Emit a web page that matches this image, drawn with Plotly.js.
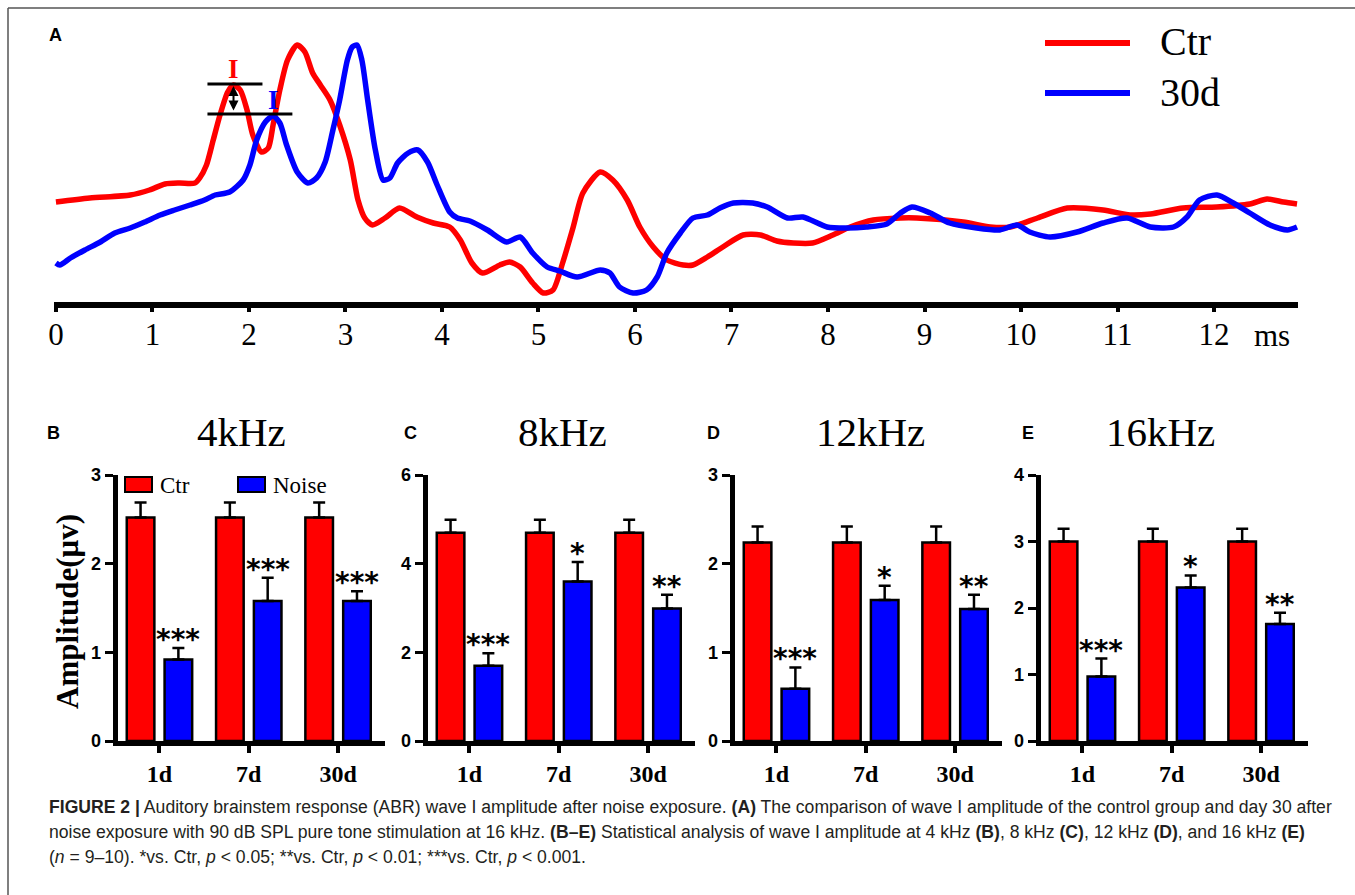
<!DOCTYPE html>
<html><head><meta charset="utf-8">
<script src="https://cdn.plot.ly/plotly-3.0.1.min.js"></script>
<style>html,body{margin:0;padding:0;background:#fff;}#chart{width:1355px;height:895px;}</style>
</head><body><div id="chart"></div>
<script>
// ---------- Panel A : ABR waveforms (time in ms, amplitude in arbitrary µV units) ----------
const timeCtr = [0,0.35,0.77,0.97,1.13,1.28,1.44,1.49,1.56,1.63,1.70,1.78,1.84,1.91,1.98,2.04,2.13,2.20,2.25,2.32,2.40,2.50,2.58,2.66,2.74,2.84,2.94,3.05,3.13,3.20,3.28,3.41,3.56,3.74,3.91,4.08,4.19,4.31,4.42,4.60,4.70,4.81,4.94,5.05,5.15,5.25,5.36,5.46,5.64,5.77,5.92,6.05,6.19,6.33,6.50,6.60,6.75,6.91,7.12,7.30,7.47,7.64,7.84,8.05,8.23,8.47,8.75,8.92,9.40,9.68,9.89,10.17,10.48,10.85,11.13,11.34,11.68,12.03,12.37,12.55,12.72,12.86];
const ampCtr = [0.98,1.02,1.05,1.10,1.16,1.17,1.17,1.22,1.35,1.60,1.85,2.08,2.15,2.10,1.90,1.65,1.48,1.52,1.75,2.10,2.40,2.55,2.48,2.27,2.15,2.00,1.75,1.40,1.00,0.82,0.75,0.82,0.92,0.83,0.77,0.73,0.60,0.37,0.27,0.35,0.38,0.33,0.17,0.07,0.10,0.37,0.73,1.07,1.28,1.20,1.00,0.73,0.53,0.40,0.35,0.35,0.43,0.53,0.65,0.65,0.59,0.57,0.57,0.65,0.73,0.80,0.82,0.82,0.78,0.73,0.73,0.82,0.92,0.90,0.85,0.86,0.92,0.93,0.96,1.01,0.98,0.96];
const timeNoise = [0,0.04,0.15,0.30,0.46,0.61,0.77,0.92,1.08,1.23,1.39,1.54,1.65,1.80,1.94,2.01,2.08,2.17,2.25,2.32,2.39,2.50,2.61,2.70,2.79,2.87,2.94,3.02,3.07,3.12,3.17,3.23,3.31,3.39,3.46,3.54,3.65,3.75,3.85,3.95,4.08,4.16,4.29,4.47,4.67,4.81,4.94,5.09,5.22,5.40,5.64,5.74,5.84,5.98,6.12,6.23,6.33,6.47,6.60,6.75,6.88,7.02,7.22,7.37,7.58,7.74,7.99,8.20,8.40,8.61,8.75,8.87,9.06,9.26,9.54,9.78,9.96,10.09,10.30,10.58,10.85,11.10,11.34,11.58,11.72,11.85,12.03,12.20,12.37,12.58,12.76,12.86];
const ampNoise = [0.37,0.35,0.42,0.50,0.58,0.67,0.72,0.78,0.85,0.90,0.95,1.00,1.05,1.08,1.20,1.35,1.60,1.78,1.84,1.77,1.55,1.28,1.17,1.22,1.38,1.70,2.00,2.40,2.53,2.55,2.40,2.00,1.50,1.20,1.22,1.37,1.47,1.50,1.38,1.15,0.88,0.82,0.79,0.70,0.58,0.63,0.47,0.33,0.29,0.23,0.30,0.27,0.13,0.07,0.10,0.23,0.47,0.67,0.82,0.85,0.92,0.97,0.97,0.93,0.82,0.83,0.73,0.72,0.73,0.76,0.87,0.93,0.87,0.77,0.72,0.70,0.75,0.68,0.63,0.68,0.77,0.82,0.73,0.73,0.83,1.00,1.05,0.97,0.87,0.75,0.70,0.73];
const abrTicks = [0,1,2,3,4,5,6,7,8,9,10,11,12];
const abrLegend = ['Ctr','30d'];

// ---------- Panels B-E : wave I amplitude (µV) ----------
const days = ['1d','7d','30d'];
const freqTitles = ['4kHz','8kHz','12kHz','16kHz'];
const panelLetters = ['B','C','D','E'];
const barLegend = ['Ctr','Noise'];
const ctr4k = [2.52,2.52,2.52],  ctr4kSem = [0.17,0.17,0.17];
const noise4k = [0.92,1.58,1.58], noise4kSem = [0.13,0.26,0.11];
const stars4k = ['***','***','***'];
const ctr8k = [4.70,4.70,4.70],  ctr8kSem = [0.29,0.29,0.29];
const noise8k = [1.70,3.60,2.99], noise8kSem = [0.28,0.44,0.31];
const stars8k = ['***','*','**'];
const ctr12k = [2.24,2.24,2.24], ctr12kSem = [0.18,0.18,0.18];
const noise12k = [0.59,1.59,1.49], noise12kSem = [0.24,0.16,0.16];
const stars12k = ['***','*','**'];
const ctr16k = [3.00,3.00,3.00], ctr16kSem = [0.19,0.19,0.19];
const noise16k = [0.97,2.31,1.76], noise16kSem = [0.27,0.18,0.17];
const stars16k = ['***','*','**'];
const yMax = [3,6,3,4];
const yStep = [1,2,1,1];

const captionLines = [
 '<b>FIGURE 2 |</b> Auditory brainstem response (ABR) wave I amplitude after noise exposure. <b>(A)</b> The comparison of wave I amplitude of the control group and day 30 after',
 'noise exposure with 90 dB SPL pure tone stimulation at 16 kHz. <b>(B–E)</b> Statistical analysis of wave I amplitude at 4 kHz <b>(B)</b>, 8 kHz <b>(C)</b>, 12 kHz <b>(D)</b>, and 16 kHz <b>(E)</b>',
 '(<i>n</i> = 9–10). *vs. Ctr, <i>p</i> &lt; 0.05; **vs. Ctr, <i>p</i> &lt; 0.01; ***vs. Ctr, <i>p</i> &lt; 0.001.'
];

// ---------- layout helpers ----------
const W = 1355, H = 895;
const fx = p => p / W, fy = p => 1 - p / H;
const RED = '#ff0000', BLUE = '#0000ff';
const SERIF = 'Liberation Serif, Times New Roman, serif';
const SANS = 'Liberation Sans, Arial, sans-serif';

const panels = [
 {ctr: ctr4k, ctrSem: ctr4kSem, noise: noise4k, noiseSem: noise4kSem, stars: stars4k},
 {ctr: ctr8k, ctrSem: ctr8kSem, noise: noise8k, noiseSem: noise8kSem, stars: stars8k},
 {ctr: ctr12k, ctrSem: ctr12kSem, noise: noise12k, noiseSem: noise12kSem, stars: stars12k},
 {ctr: ctr16k, ctrSem: ctr16kSem, noise: noise16k, noiseSem: noise16kSem, stars: stars16k}
];
const yAxisPx = [115, 425, 732, 1038];   // position of each y-axis line
const titlePx = [241, 562, 870, 1160];
const letterPx = [53, 410, 713, 1028];

const traces = [];
traces.push({x: timeCtr, y: ampCtr, type: 'scatter', mode: 'lines', xaxis: 'x', yaxis: 'y',
  line: {color: RED, width: 5.5, shape: 'spline', smoothing: 0.7}, showlegend: false, name: abrLegend[0]});
traces.push({x: timeNoise, y: ampNoise, type: 'scatter', mode: 'lines', xaxis: 'x', yaxis: 'y',
  line: {color: BLUE, width: 5.5, shape: 'spline', smoothing: 0.7}, showlegend: false, name: abrLegend[1]});

const layout = {
  width: W, height: H, margin: {l: 0, r: 0, t: 0, b: 0},
  paper_bgcolor: '#fff', plot_bgcolor: 'rgba(0,0,0,0)',
  showlegend: false, barmode: 'group', bargap: 0.153, bargroupgap: 0.27,
  xaxis: {domain: [fx(54), fx(1298)], range: [-0.02, 12.87], anchor: 'y',
    tickvals: abrTicks, ticktext: abrTicks.map(String), showline: true, linewidth: 6, linecolor: '#000',
    ticks: 'outside', ticklen: 4, tickwidth: 4, tickcolor: '#000', showgrid: false, zeroline: false,
    ticklabelstandoff: -4,
    tickfont: {family: SERIF, size: 31, color: '#000'}, fixedrange: true},
  yaxis: {domain: [fy(302), fy(30)], range: [-0.02, 2.70], visible: false, anchor: 'x', fixedrange: true},
  shapes: [], annotations: []
};

// Panel A markers of wave I (derived from the data)
function peakBefore(t, a, tLim) {
  let best = -1;
  for (let i = 0; i < t.length; i++) if (t[i] < tLim && (best < 0 || a[i] > a[best])) best = i;
  return {t: t[best], a: a[best]};
}
const pkCtr = peakBefore(timeCtr, ampCtr, 2.0);
const pkNoise = peakBefore(timeNoise, ampNoise, 2.4);
layout.shapes.push({type: 'line', xref: 'x', yref: 'y', x0: pkCtr.t - 0.27, x1: pkCtr.t + 0.3, y0: pkCtr.a + 0.01, y1: pkCtr.a + 0.01, line: {color: '#000', width: 3}});
layout.shapes.push({type: 'line', xref: 'x', yref: 'y', x0: pkCtr.t - 0.27, x1: pkNoise.t + 0.2, y0: pkNoise.a + 0.02, y1: pkNoise.a + 0.02, line: {color: '#000', width: 3}});
layout.annotations.push({xref: 'x', yref: 'y', x: pkCtr.t, y: pkCtr.a - 0.01, axref: 'x', ayref: 'y', ax: pkCtr.t, ay: pkNoise.a + 0.04,
  showarrow: true, arrowhead: 2, arrowside: 'end+start', arrowsize: 1, arrowwidth: 2, arrowcolor: '#000', text: ''});
layout.annotations.push({xref: 'x', yref: 'y', x: pkCtr.t, y: pkCtr.a, yanchor: 'bottom', yshift: -1, showarrow: false,
  text: '<b>I</b>', font: {family: SERIF, size: 27, color: RED}});
layout.annotations.push({xref: 'x', yref: 'y', x: pkNoise.t, y: pkNoise.a, yanchor: 'bottom', yshift: -1, showarrow: false,
  text: '<b>I</b>', font: {family: SERIF, size: 27, color: BLUE}});
layout.annotations.push({xref: 'paper', yref: 'paper', x: fx(1252), y: fy(335), xanchor: 'left', yanchor: 'middle', showarrow: false,
  text: 'ms', font: {family: SERIF, size: 31, color: '#000'}});
layout.annotations.push({xref: 'paper', yref: 'paper', x: fx(55), y: fy(35), xanchor: 'center', yanchor: 'middle', showarrow: false,
  text: '<b>A</b>', font: {family: SANS, size: 18, color: '#000'}});
// Panel A legend
[[RED, 43], [BLUE, 93]].forEach((c, i) => {
  layout.shapes.push({type: 'line', xref: 'paper', yref: 'paper', x0: fx(1045), x1: fx(1130), y0: fy(c[1]), y1: fy(c[1]), line: {color: c[0], width: 6}});
  layout.annotations.push({xref: 'paper', yref: 'paper', x: fx(1158), y: fy(c[1] - 1), xanchor: 'left', yanchor: 'middle', showarrow: false,
    text: abrLegend[i], font: {family: SERIF, size: 40, color: '#000'}});
});

// Panels B-E
panels.forEach((p, k) => {
  const xa = 'x' + (k + 2), ya = 'y' + (k + 2);
  const left = yAxisPx[k] + 2.5;
  const start = -0.47, end = 2.52, unit = 89.3;
  layout['xaxis' + (k + 2)] = {domain: [fx(left), fx(left + (end - start) * unit)], range: [start, end], anchor: ya,
    type: 'category', categoryorder: 'array', categoryarray: days,
    showline: true, linewidth: 5, linecolor: '#000', ticks: 'outside', ticklen: 7, tickwidth: 4, tickcolor: '#000',
    showgrid: false, zeroline: false, tickfont: {family: SERIF, size: 24, color: '#000', weight: 'bold'}, fixedrange: true};
  layout['yaxis' + (k + 2)] = {domain: [fy(741), fy(475)], range: [0, yMax[k]], anchor: xa, dtick: yStep[k], tick0: 0,
    showline: true, linewidth: 5, linecolor: '#000', ticks: 'outside', ticklen: 8, tickwidth: 3, tickcolor: '#000',
    showgrid: false, zeroline: false, tickfont: {family: SANS, size: 18, color: '#000', weight: 'bold'}, fixedrange: true};
  traces.push({type: 'bar', x: days, y: p.ctr, xaxis: xa, yaxis: ya, name: barLegend[0],
    marker: {color: RED, line: {color: '#000', width: 2.5}},
    error_y: {type: 'data', symmetric: false, array: p.ctrSem, arrayminus: p.ctrSem.map(() => 0), color: '#000', thickness: 2.5, width: 6}});
  traces.push({type: 'bar', x: days, y: p.noise, xaxis: xa, yaxis: ya, name: barLegend[1],
    marker: {color: BLUE, line: {color: '#000', width: 2.5}},
    error_y: {type: 'data', symmetric: false, array: p.noiseSem, arrayminus: p.noiseSem.map(() => 0), color: '#000', thickness: 2.5, width: 6}});
  p.stars.forEach((s, i) => {
    layout.annotations.push({xref: xa, yref: ya, x: days[i], y: p.noise[i] + p.noiseSem[i], xshift: 19, yshift: -10,
      yanchor: 'bottom', showarrow: false, text: '<b>' + s + '</b>', font: {family: 'DejaVu Sans, sans-serif', size: 28, color: '#000'}});
  });
  layout.annotations.push({xref: 'paper', yref: 'paper', x: fx(titlePx[k]), y: fy(432), xanchor: 'center', yanchor: 'middle', showarrow: false,
    text: freqTitles[k], font: {family: SERIF, size: 41, color: '#000'}});
  layout.annotations.push({xref: 'paper', yref: 'paper', x: fx(letterPx[k]), y: fy(433), xanchor: 'center', yanchor: 'middle', showarrow: false,
    text: '<b>' + panelLetters[k] + '</b>', font: {family: SANS, size: 18, color: '#000'}});
});

// Bar legend in panel B
[[RED, 125, 158], [BLUE, 238, 271]].forEach((c, i) => {
  layout.shapes.push({type: 'rect', xref: 'paper', yref: 'paper', x0: fx(c[1]), x1: fx(c[1] + 27), y0: fy(492), y1: fy(477),
    fillcolor: c[0], line: {color: '#000', width: 2}});
  layout.annotations.push({xref: 'paper', yref: 'paper', x: fx(c[2]), y: fy(485), xanchor: 'left', yanchor: 'middle', showarrow: false,
    text: barLegend[i], font: {family: SERIF, size: 23, color: '#000'}});
});

// Y-axis title
layout.annotations.push({xref: 'paper', yref: 'paper', x: fx(67), y: fy(612), textangle: -90, xanchor: 'center', yanchor: 'middle', showarrow: false,
  text: '<b>Amplitude(μv)</b>', font: {family: SERIF, size: 31, color: '#000'}});

// Figure frame
layout.shapes.push({type: 'line', xref: 'paper', yref: 'paper', x0: fx(8), x1: 1, y0: fy(8), y1: fy(8), line: {color: '#555', width: 1.5}});
layout.shapes.push({type: 'line', xref: 'paper', yref: 'paper', x0: fx(8), x1: fx(8), y0: fy(8), y1: 0, line: {color: '#555', width: 1.5}});

// Caption
[807, 832, 857].forEach((py, i) => {
  layout.annotations.push({xref: 'paper', yref: 'paper', x: fx(47), y: fy(py), xanchor: 'left', yanchor: 'middle', showarrow: false,
    text: captionLines[i], font: {family: SANS, size: 17.6, color: '#231f20'}});
});

Plotly.newPlot('chart', traces, layout, {displayModeBar: false, staticPlot: true});
</script></body></html>
